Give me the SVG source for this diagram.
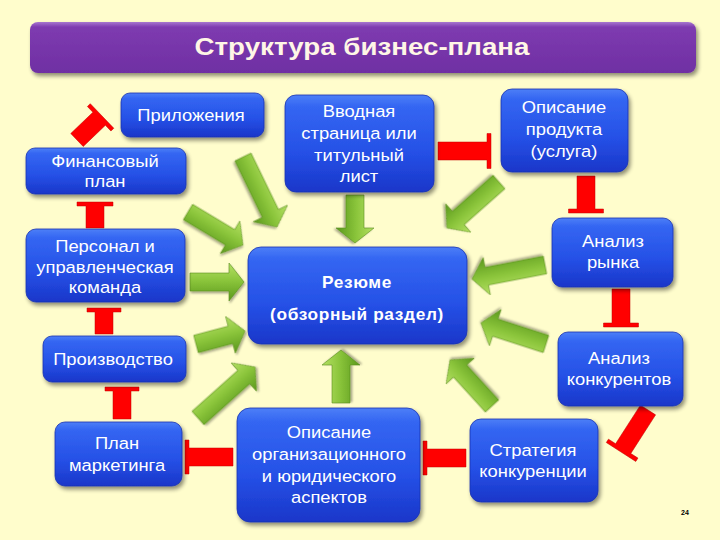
<svg xmlns="http://www.w3.org/2000/svg" width="720" height="540" viewBox="0 0 720 540">
<defs>
<linearGradient id="gBox" x1="0" y1="0" x2="0" y2="1">
<stop offset="0" stop-color="#4d7ff7"/>
<stop offset="0.12" stop-color="#3466f2"/>
<stop offset="0.6" stop-color="#2550e6"/>
<stop offset="1" stop-color="#1a36c9"/>
</linearGradient>
<linearGradient id="gTitle" x1="0" y1="0" x2="0" y2="1">
<stop offset="0" stop-color="#a777cf"/>
<stop offset="0.1" stop-color="#7e3bb0"/>
<stop offset="1" stop-color="#6f2fa3"/>
</linearGradient>
<linearGradient id="gGreen" x1="0" y1="0" x2="0" y2="1">
<stop offset="0" stop-color="#b5e063"/>
<stop offset="0.45" stop-color="#8cc63c"/>
<stop offset="1" stop-color="#5a981c"/>
</linearGradient>
<filter id="sh" x="-10%" y="-10%" width="125%" height="130%">
<feGaussianBlur in="SourceAlpha" stdDeviation="2"/>
<feOffset dx="1.5" dy="2.5" result="o"/>
<feComponentTransfer><feFuncA type="linear" slope="0.45"/></feComponentTransfer>
<feMerge><feMergeNode/><feMergeNode in="SourceGraphic"/></feMerge>
</filter>
<filter id="ash" x="-20%" y="-30%" width="140%" height="160%">
<feGaussianBlur in="SourceAlpha" stdDeviation="1.2"/>
<feOffset dx="1" dy="1.5"/>
<feComponentTransfer><feFuncA type="linear" slope="0.35"/></feComponentTransfer>
<feMerge><feMergeNode/><feMergeNode in="SourceGraphic"/></feMerge>
</filter>
</defs>
<style>
.box{fill:url(#gBox);stroke:#1a34b0;stroke-width:0.8;filter:url(#sh)}
.t{font-family:"Liberation Sans",Arial,sans-serif;font-size:17px;fill:#ffffff;text-anchor:middle}
.b{font-weight:bold;font-size:16px;letter-spacing:0.6px}
.ga{fill:url(#gGreen);stroke:#5a8f22;stroke-width:0.6;filter:url(#ash)}
.ra{fill:#ff0000;stroke:#c00000;stroke-width:0.5}
</style>
<rect width="720" height="540" fill="#fffdcc"/>

<g id="title">
<rect x="30" y="22" width="666" height="51" rx="8" fill="url(#gTitle)" filter="url(#sh)"/>
<text x="362" y="55" font-family="'Liberation Sans',Arial,sans-serif" font-size="24" font-weight="bold" fill="#fff6e6" text-anchor="middle" textLength="335" lengthAdjust="spacingAndGlyphs">Структура бизнес-плана</text>
</g>

<g id="connectors">
<!-- green arrows into Резюме -->
<path class="ga" transform="translate(243 157) rotate(64.1)" d="M0,-9 L62.8,-9 L62.8,-19 L77.8,0 L62.8,19 L62.8,9 L0,9 Z"/>
<path class="ga" transform="translate(188 212) rotate(31)" d="M0,-9 L49.1,-9 L49.1,-19 L64.1,0 L49.1,19 L49.1,9 L0,9 Z"/>
<path class="ga" transform="translate(190 282) rotate(0)" d="M0,-9 L39,-9 L39,-19 L54,0 L39,19 L39,9 L0,9 Z"/>
<path class="ga" transform="translate(355 195) rotate(90)" d="M0,-9 L33,-9 L33,-19 L48,0 L33,19 L33,9 L0,9 Z"/>
<path class="ga" transform="translate(499 182) rotate(138.5)" d="M0,-9 L54.4,-9 L54.4,-19 L69.4,0 L54.4,19 L54.4,9 L0,9 Z"/>
<path class="ga" transform="translate(545 265) rotate(169.1)" d="M0,-9 L59.3,-9 L59.3,-19 L74.3,0 L59.3,19 L59.3,9 L0,9 Z"/>
<path class="ga" transform="translate(546 344) rotate(-162.1)" d="M0,-9 L53.3,-9 L53.3,-19 L68.3,0 L53.3,19 L53.3,9 L0,9 Z"/>
<path class="ga" transform="translate(492 406) rotate(-132.4)" d="M0,-9 L47.3,-9 L47.3,-19 L62.3,0 L47.3,19 L47.3,9 L0,9 Z"/>
<path class="ga" transform="translate(341 403) rotate(-90)" d="M0,-9 L38,-9 L38,-19 L53,0 L38,19 L38,9 L0,9 Z"/>
<path class="ga" transform="translate(196 344) rotate(-14.9)" d="M0,-9 L35.7,-9 L35.7,-19 L50.7,0 L35.7,19 L35.7,9 L0,9 Z"/>
<path class="ga" transform="translate(198 418) rotate(-41.8)" d="M0,-9 L61.5,-9 L61.5,-19 L76.5,0 L61.5,19 L61.5,9 L0,9 Z"/>
<!-- red T-arrows (sequence) -->
<path class="ra" transform="translate(438 151) rotate(0)" d="M0,-9 L49,-9 L49,-17.5 L53,-17.5 L53,17.5 L49,17.5 L49,9 L0,9 Z"/>
<path class="ra" transform="translate(586 176) rotate(90)" d="M0,-9 L33,-9 L33,-17.5 L37,-17.5 L37,17.5 L33,17.5 L33,9 L0,9 Z"/>
<path class="ra" transform="translate(621 289) rotate(90)" d="M0,-9 L34,-9 L34,-17.5 L38,-17.5 L38,17.5 L34,17.5 L34,9 L0,9 Z"/>
<path class="ra" transform="translate(648 410) rotate(122.7)" d="M0,-9 L45.9,-9 L45.9,-17.5 L49.9,-17.5 L49.9,17.5 L45.9,17.5 L45.9,9 L0,9 Z"/>
<path class="ra" transform="translate(466 458) rotate(180)" d="M0,-9 L39,-9 L39,-17 L43,-17 L43,17 L39,17 L39,9 L0,9 Z"/>
<path class="ra" transform="translate(233 457) rotate(180)" d="M0,-9 L44,-9 L44,-17 L48,-17 L48,17 L44,17 L44,9 L0,9 Z"/>
<path class="ra" transform="translate(122 419) rotate(-90)" d="M0,-9 L28,-9 L28,-17 L32,-17 L32,17 L28,17 L28,9 L0,9 Z"/>
<path class="ra" transform="translate(104 334) rotate(-90)" d="M0,-9 L22,-9 L22,-17 L26,-17 L26,17 L22,17 L22,9 L0,9 Z"/>
<path class="ra" transform="translate(95 228) rotate(-90)" d="M0,-9 L22,-9 L22,-18 L26,-18 L26,18 L22,18 L22,9 L0,9 Z"/>
<path class="ra" transform="translate(77 140) rotate(-43.8)" d="M0,-9 L30.7,-9 L30.7,-17 L34.7,-17 L34.7,17 L30.7,17 L30.7,9 L0,9 Z"/>
</g>

<g id="n_pril">
<rect class="box" x="121" y="93" width="143" height="44" rx="9"/>
<text class="t" transform="translate(191 0) scale(1.08 1)"><tspan x="0" y="121">Приложения</tspan></text>
</g>
<g id="n_fin">
<rect class="box" x="26" y="148" width="160" height="46" rx="9"/>
<text class="t" transform="translate(105 0) scale(1.08 1)"><tspan x="0" y="167">Финансовый</tspan><tspan x="0" y="187">план</tspan></text>
</g>
<g id="n_pers">
<rect class="box" x="26" y="229" width="159" height="73" rx="10"/>
<text class="t" transform="translate(105 0) scale(1.08 1)"><tspan x="0" y="252">Персонал и</tspan><tspan x="0" y="273">управленческая</tspan><tspan x="0" y="293">команда</tspan></text>
</g>
<g id="n_vvod">
<rect class="box" x="285" y="95" width="149" height="97" rx="11"/>
<text class="t" transform="translate(359 0) scale(1.08 1)"><tspan x="0" y="117">Вводная</tspan><tspan x="0" y="139">страница или</tspan><tspan x="0" y="161">титульный</tspan><tspan x="0" y="182">лист</tspan></text>
</g>
<g id="n_opis">
<rect class="box" x="501" y="89" width="127" height="83" rx="11"/>
<text class="t" transform="translate(564 0) scale(1.08 1)"><tspan x="0" y="113">Описание</tspan><tspan x="0" y="135">продукта</tspan><tspan x="0" y="157">(услуга)</tspan></text>
</g>
<g id="n_rynok">
<rect class="box" x="552" y="218" width="121" height="69" rx="10"/>
<text class="t" transform="translate(613 0) scale(1.08 1)"><tspan x="0" y="247">Анализ</tspan><tspan x="0" y="268">рынка</tspan></text>
</g>
<g id="n_rezume">
<rect class="box" x="248" y="247" width="219" height="97" rx="13"/>
<text class="t b" transform="translate(357 0) scale(1.08 1)"><tspan x="0" y="288">Резюме</tspan><tspan x="0" y="320">(обзорный раздел)</tspan></text>
</g>
<g id="n_proizv">
<rect class="box" x="43" y="336" width="143" height="46" rx="9"/>
<text class="t" transform="translate(113 0) scale(1.08 1)"><tspan x="0" y="365">Производство</tspan></text>
</g>
<g id="n_konk">
<rect class="box" x="558" y="332" width="125" height="74" rx="10"/>
<text class="t" transform="translate(619 0) scale(1.08 1)"><tspan x="0" y="364">Анализ</tspan><tspan x="0" y="385">конкурентов</tspan></text>
</g>
<g id="n_plan">
<rect class="box" x="55" y="422" width="127" height="64" rx="10"/>
<text class="t" transform="translate(117 0) scale(1.08 1)"><tspan x="0" y="449">План</tspan><tspan x="0" y="471">маркетинга</tspan></text>
</g>
<g id="n_org">
<rect class="box" x="237" y="408" width="183" height="114" rx="13"/>
<text class="t" transform="translate(329 0) scale(1.08 1)"><tspan x="0" y="438">Описание</tspan><tspan x="0" y="460">организационного</tspan><tspan x="0" y="482">и юридического</tspan><tspan x="0" y="503">аспектов</tspan></text>
</g>
<g id="n_strat">
<rect class="box" x="470" y="419" width="128" height="83" rx="11"/>
<text class="t" transform="translate(533 0) scale(1.08 1)"><tspan x="0" y="456">Стратегия</tspan><tspan x="0" y="477">конкуренции</tspan></text>
</g>
<text x="685" y="515" font-family="'Liberation Sans',Arial,sans-serif" font-size="7" font-weight="bold" fill="#000000" text-anchor="middle">24</text>
</svg>
